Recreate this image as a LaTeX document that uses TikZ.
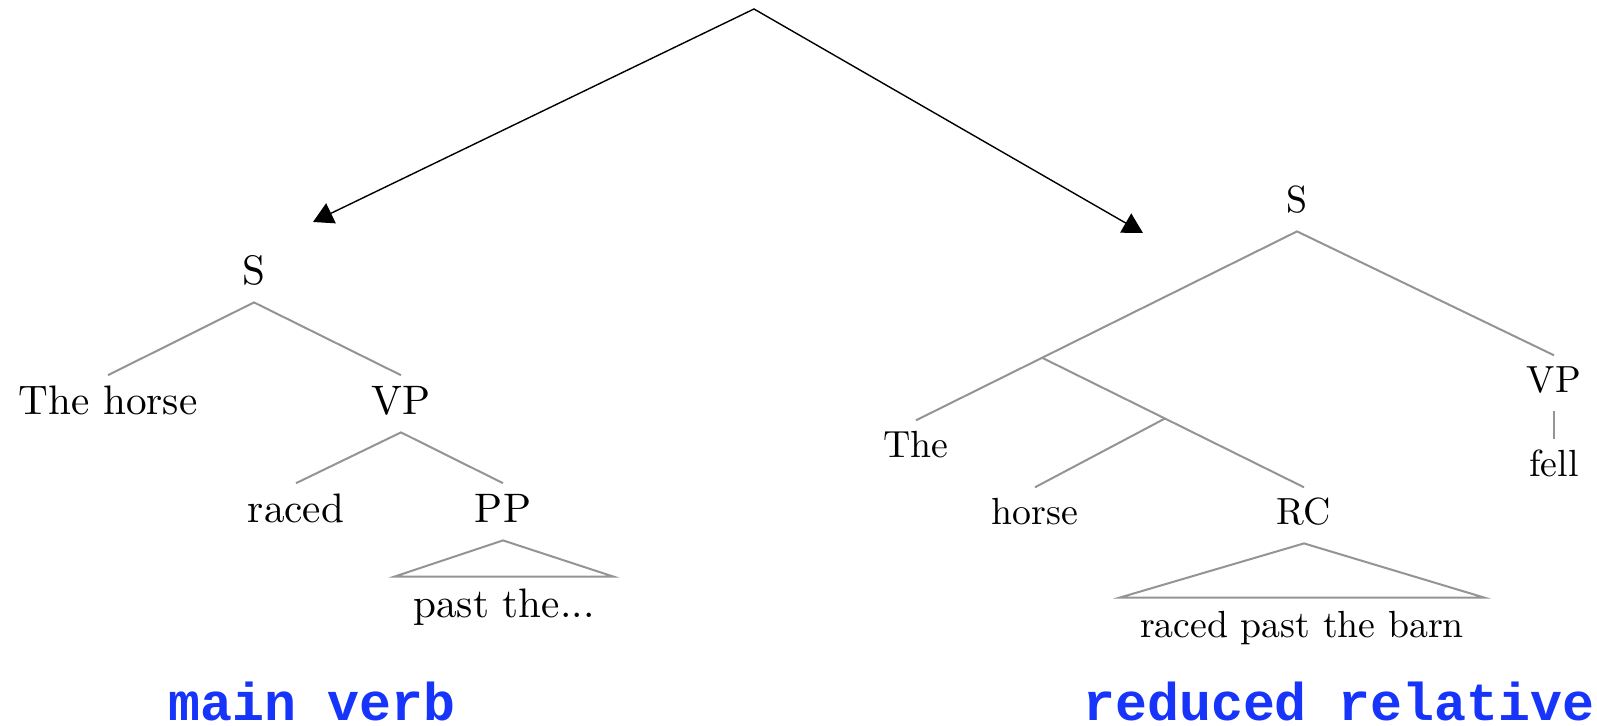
\documentclass[tikz,border=0pt]{standalone}
\usepackage{fontspec}
% tree labels in the 10pt design of Latin Modern, scaled up
\setmainfont{lmroman10-regular.otf}
\newfontfamily\labelfont{Liberation Mono}
\usetikzlibrary{arrows.meta,calc}
\definecolor{labelblue}{RGB}{22,52,250}
\begin{document}
\begin{tikzpicture}[x=0.5pt,y=-0.5pt,
  bigtree/.style={font=\fontsize{20.6}{25}\selectfont, inner xsep=0pt,
    inner ysep=5.5pt, text height=14.2pt, text depth=3pt, anchor=base},
  smalltree/.style={font=\fontsize{18.9}{22}\selectfont, inner xsep=0pt,
    inner ysep=5.75pt, text height=12.9pt, text depth=3.25pt, anchor=base},
  bigleaf/.style={bigtree, inner xsep=9.25pt, inner ysep=6.3pt},
  smallleaf/.style={smalltree, inner xsep=10pt, inner ysep=7.1pt},
  branch/.style={draw=black!42, line width=1pt},
  roof/.style={draw=black!42, line width=1pt, line join=miter},
  choice/.style={draw=black, line width=0.7pt, line join=miter,
    {Triangle[length=10pt,width=11pt]}-{Triangle[length=10pt,width=11pt]}},
  caption/.style={font=\labelfont\bfseries\fontsize{26.6}{30}\selectfont,
    text=labelblue, inner sep=0pt, text depth=0pt, anchor=base west}]
\path[use as bounding box] (0,0) rectangle (1597,726);

% the two readings
\coordinate (apex) at (754,9);
\coordinate (leftend) at (313,222);
\coordinate (rightend) at (1143,233);
\draw[choice] (leftend) -- (apex) -- (rightend);

% main verb parse
\node[bigtree] (lS) at (254,285) {S};
\node[bigtree] (lNP) at (108,415) {The horse};
\node[bigtree] (lVP) at (401,415) {VP};
\node[bigtree] (lV) at (296,523) {raced};
\node[bigtree] (lPP) at (503,523) {PP};
\node[bigleaf] (lPast) at (504,618) {past the...};
\draw[branch] (lNP.north) -- (lS.south) -- (lVP.north);
\draw[branch] (lV.north) -- (lVP.south) -- (lPP.north);
\draw[roof] (lPP.south) -- (lPast.north east) -- (lPast.north west) -- cycle;

% reduced relative parse
\node[smalltree] (rS) at (1297,213) {S};
\node[smalltree] (rVP) at (1554,393) {VP};
\node[smalltree] (rFell) at (1554,477) {fell};
\node[smalltree] (rThe) at (916,458) {The};
\node[smalltree] (rHorse) at (1035,525) {horse};
\node[smalltree] (rRC) at (1304,525) {RC};
\node[smallleaf] (rBarn) at (1302,638) {raced past the barn};
\coordinate (rNP) at ($(rS.south)!0.669!(rThe.north)$);
\coordinate (rNbar) at ($(rNP)!0.469!(rRC.north)$);
\draw[branch] (rThe.north) -- (rS.south) -- (rVP.north);
\draw[branch] (rNP) -- (rRC.north);
\draw[branch] (rNbar) -- (rHorse.north);
\draw[branch] (rVP.south) -- (rFell.north);
\draw[roof] (rRC.south) -- (rBarn.north east) -- (rBarn.north west) -- cycle;

% captions
\node[caption] (capMain) at (168,721) {main verb};
\node[caption] (capReduced) at (1083,721) {reduced relative};
\end{tikzpicture}
\end{document}
